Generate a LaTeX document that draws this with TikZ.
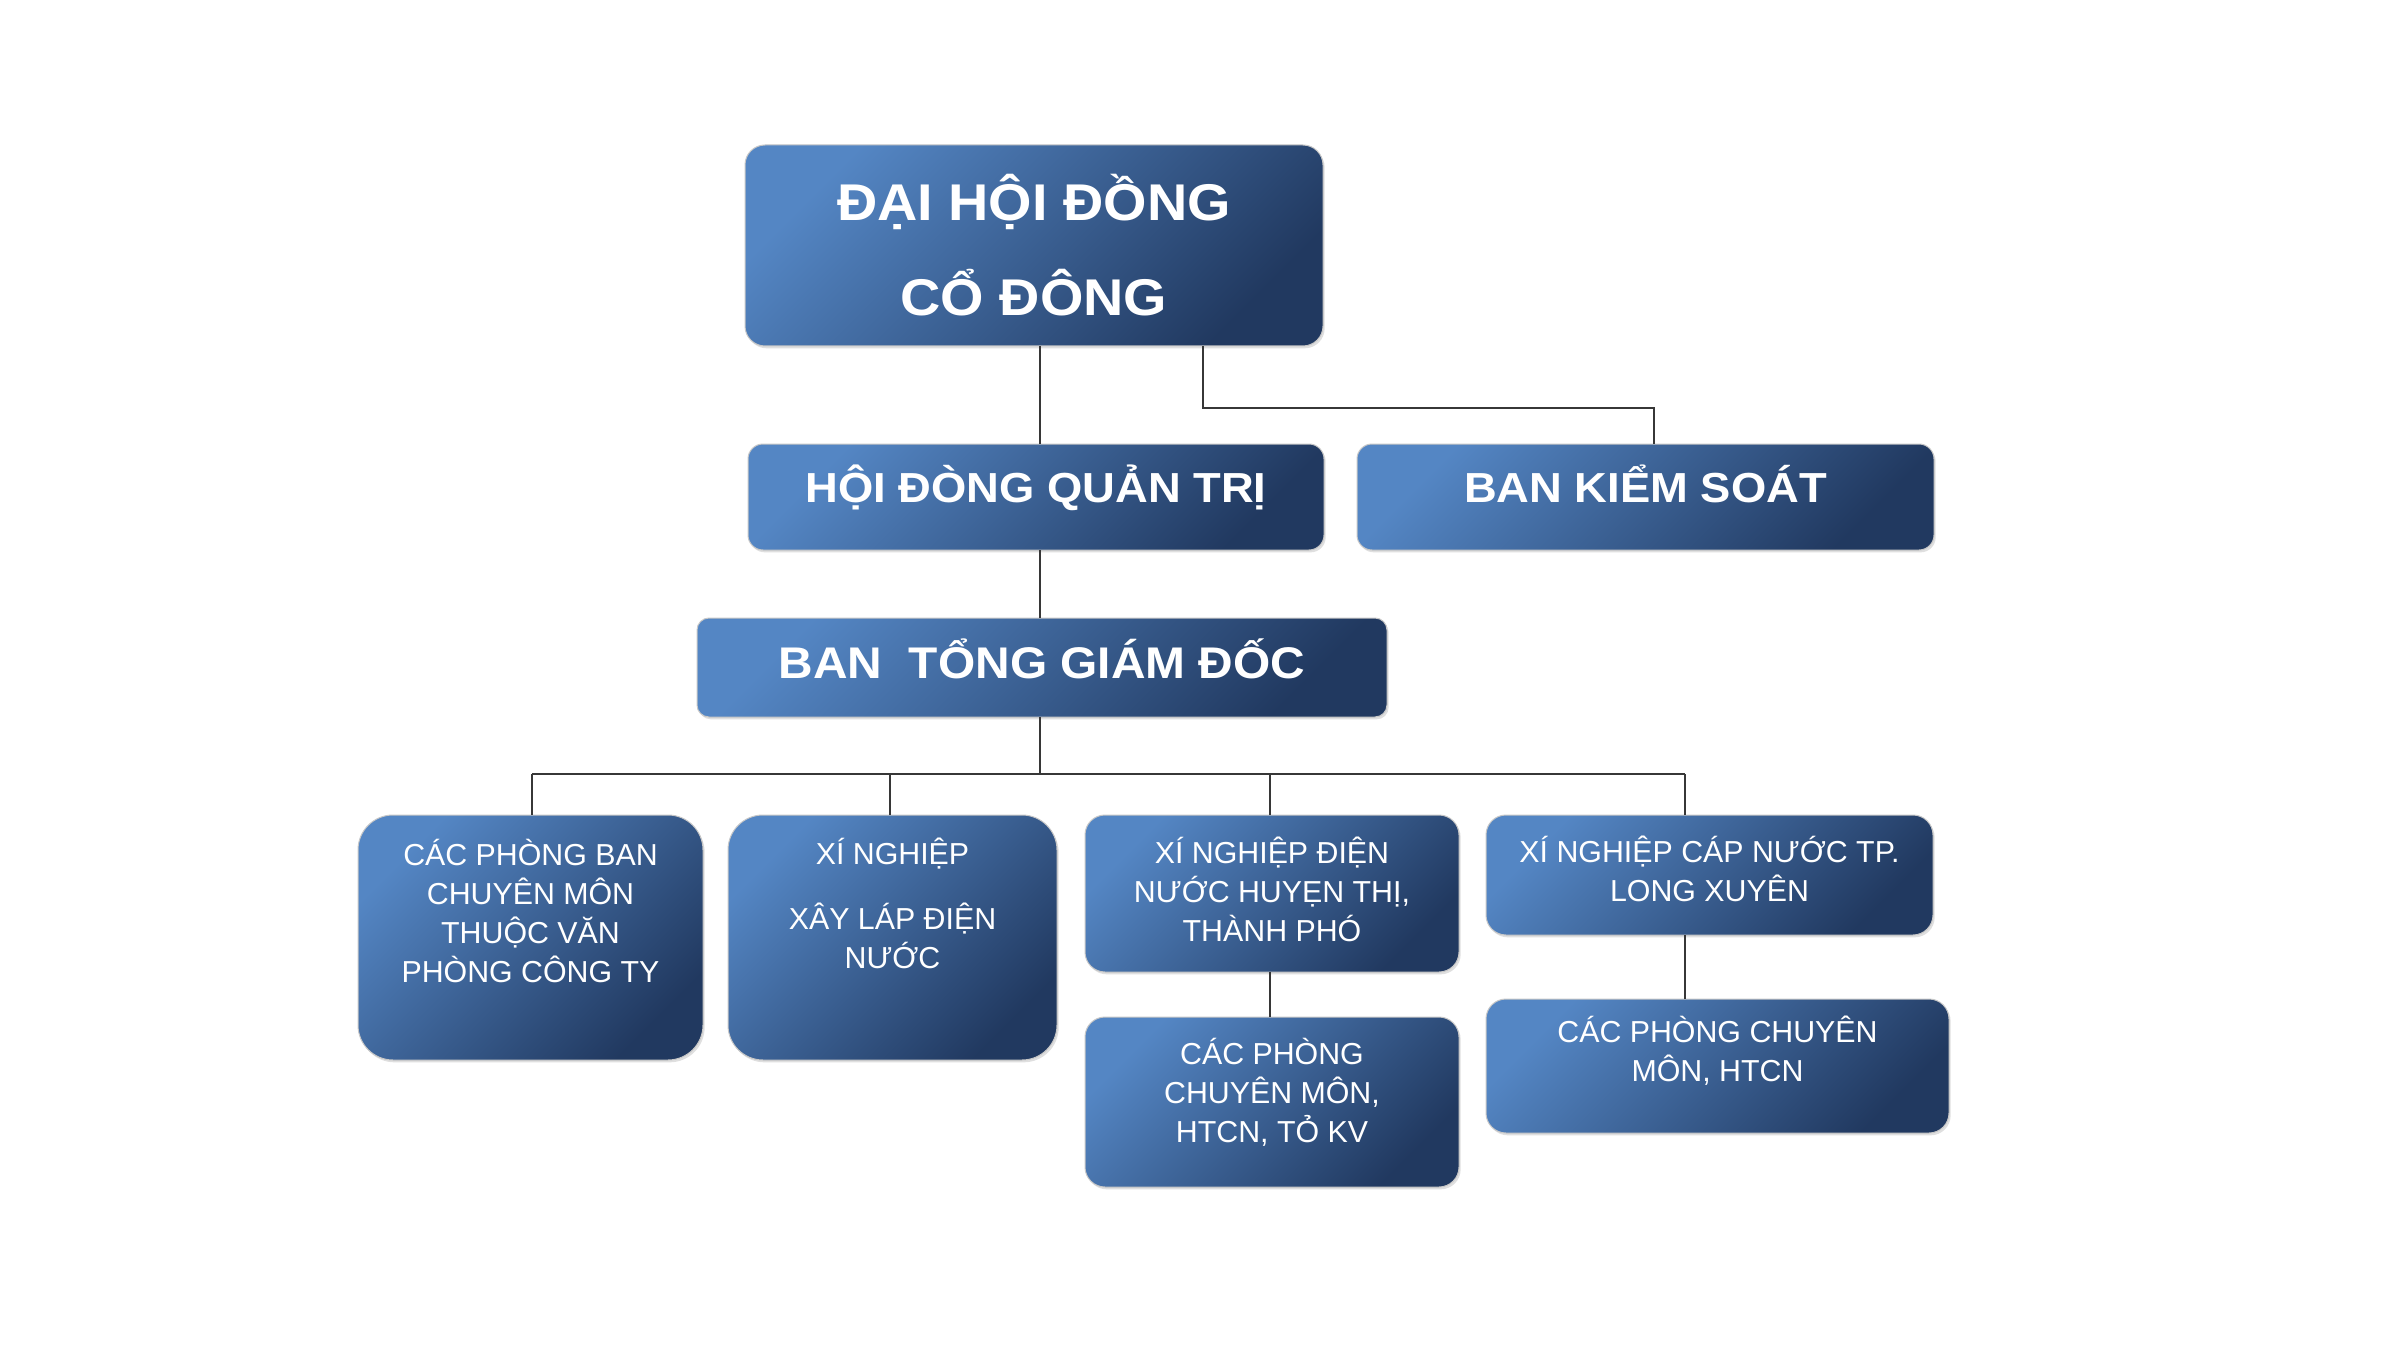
\documentclass[tikz,border=0pt]{standalone}
\usepackage{fontspec}
\setmainfont{Liberation Sans}
\newfontfamily\headfont{Liberation Sans}[FakeStretch=1.08]
\usetikzlibrary{shadows}
\definecolor{boxlight}{RGB}{84,134,196}
\definecolor{boxdark}{RGB}{33,57,96}
\definecolor{linecol}{RGB}{55,55,55}
\newcommand{\boxtext}[4]{\parbox[c][#2][t]{#1}{\centering\rule{0pt}{#3}#4\par}}
\tikzset{
  orgbox/.style={shape=rectangle, inner sep=0pt, outer sep=0pt, text=white,
    top color=boxlight, bottom color=boxdark, shading angle=45,
    draw=black!22, line width=0.3pt,
    drop shadow={shadow xshift=0.5pt, shadow yshift=-0.7pt, opacity=0.25}},
  headbig/.style={font=\headfont\bfseries\fontsize{15.5}{28.5}\selectfont},
  headmid/.style={font=\headfont\bfseries\fontsize{12.6}{15}\selectfont},
  headbtg/.style={font=\headfont\bfseries\fontsize{13.3}{15}\selectfont},
  smalltxt/.style={font=\fontsize{9.1}{11.7}\selectfont},
  conn/.style={draw=linecol, line width=0.6pt}
}
\begin{document}
\begin{tikzpicture}[x=0.3pt, y=-0.3pt]
\useasboundingbox (0,0) rectangle (2400,1350);
\fill[white] (0,0) rectangle (2400,1350);

% top levels
\node[orgbox, rounded corners=6pt, headbig] (dhd) at (1034,245.5)
  {\boxtext{173.4pt}{60.3pt}{22.65pt}{ĐẠI HỘI ĐỒNG\\CỔ ĐÔNG}};
\node[orgbox, rounded corners=4.5pt, headmid] (hdqt) at (1036,497)
  {\boxtext{172.8pt}{31.8pt}{17.7pt}{HỘI ĐÒNG QUẢN TRỊ}};
\node[orgbox, rounded corners=4.5pt, headmid] (bks) at (1645.5,497)
  {\boxtext{173.1pt}{31.8pt}{17.7pt}{BAN KIỂM SOÁT}};
\node[orgbox, rounded corners=3.6pt, headbtg] (btgd) at (1042,667.5)
  {\boxtext{207pt}{29.7pt}{18pt}{BAN~~TỔNG GIÁM ĐỐC}};

% bottom row
\node[orgbox, rounded corners=10.5pt, smalltxt] (cpb) at (530.5,937.5)
  {\boxtext{103.5pt}{73.5pt}{15pt}{CÁC PHÒNG BAN\\CHUYÊN MÔN\\THUỘC VĂN\\PHÒNG CÔNG TY}};
\node[orgbox, rounded corners=10.5pt, smalltxt] (xnxl) at (892.5,937.5)
  {\boxtext{98.7pt}{73.5pt}{14.7pt}{XÍ NGHIỆP\\[7.8pt]XÂY LÁP ĐIỆN\\NƯỚC}};
\node[orgbox, rounded corners=6pt, smalltxt] (xndn) at (1272,893.5)
  {\boxtext{112.2pt}{47.1pt}{14.4pt}{XÍ NGHIỆP ĐIỆN\\NƯỚC HUYẸN THỊ,\\THÀNH PHÓ}};
\node[orgbox, rounded corners=6pt, smalltxt] (xncn) at (1709.5,875)
  {\boxtext{134.1pt}{36pt}{14.1pt}{XÍ NGHIỆP CÁP NƯỚC TP.\\LONG XUYÊN}};
\node[orgbox, rounded corners=6pt, smalltxt] (cpcm) at (1272,1102)
  {\boxtext{112.2pt}{51pt}{14.1pt}{CÁC PHÒNG\\CHUYÊN MÔN,\\HTCN, TỎ KV}};
\node[orgbox, rounded corners=6pt, smalltxt] (cpht) at (1717.5,1066)
  {\boxtext{138.9pt}{40.2pt}{12.9pt}{CÁC PHÒNG CHUYÊN\\MÔN, HTCN}};

% connectors
\coordinate (sp) at (1040,0);
\coordinate (ka) at (1203,408);
\coordinate (kb) at (1654,408);
\coordinate (bM) at (1040,774);
\coordinate (bA) at (532,774);
\coordinate (bB) at (890,774);
\coordinate (bC) at (1270,774);
\coordinate (bD) at (1685,774);

\draw[conn] (dhd.south -| sp) -- (hdqt.north -| sp);
\draw[conn] (dhd.south -| ka) -- (ka) -- (kb) -- (bks.north -| kb);
\draw[conn] (hdqt.south -| sp) -- (btgd.north -| sp);
\draw[conn] (btgd.south -| sp) -- (bM);
\draw[conn] (bA) -- (bD);
\draw[conn] (bA) -- (cpb.north -| bA);
\draw[conn] (bB) -- (xnxl.north -| bB);
\draw[conn] (bC) -- (xndn.north -| bC);
\draw[conn] (bD) -- (xncn.north -| bD);
\draw[conn] (xndn.south -| bC) -- (cpcm.north -| bC);
\draw[conn] (xncn.south -| bD) -- (cpht.north -| bD);
\end{tikzpicture}
\end{document}
